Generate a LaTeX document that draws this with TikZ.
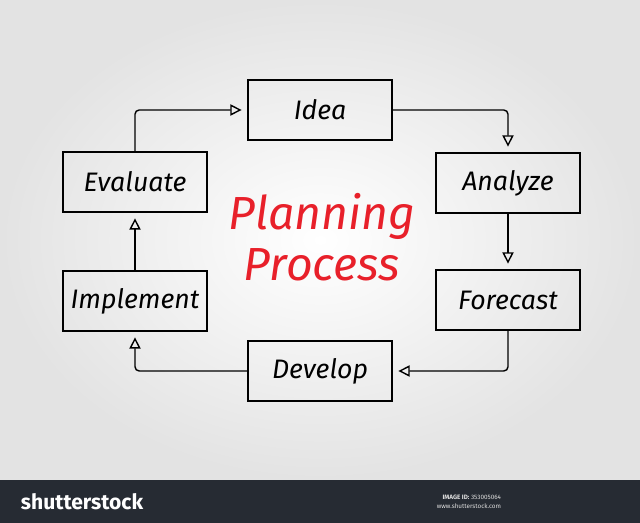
\documentclass[tikz,border=0pt]{standalone}
\usepackage{fontspec}
\setmainfont{Fira Sans}
\usetikzlibrary{arrows.meta}
\definecolor{titlered}{HTML}{E8202A}
\definecolor{footerdark}{HTML}{262B33}
\tikzset{
  stage/.style={draw, line width=1.1pt, minimum width=3.6cm, minimum height=1.5cm,
    font=\fontsize{19}{22}\selectfont\itshape},
  link/.style={->, line width=1pt, shorten >=4pt, rounded corners=3pt},
}
\begin{document}
\begin{tikzpicture}[x=0.025cm, y=-0.025cm, >={Triangle[open,length=8pt,width=8pt,line width=1pt]}]
\useasboundingbox (0,0) rectangle (640,523);
\shade[inner color=white, outer color=gray!22] (0,0) rectangle (640,480);

\foreach \name/\x/\y/\txt in {idea/320/110/Idea, evaluate/135/182/Evaluate,
  analyze/508/183/Analyze, implement/135/301/Implement,
  forecast/508/300/Forecast, develop/320/371/Develop}
{
    \node[stage] (\name) at (\x,\y) {\txt};
}
\node[font=\fontsize{33}{36}\selectfont\itshape, text=titlered, align=center] (title) at (322,237) {Planning\\Process};

\draw[link] (evaluate.north) |- (idea.west);
\draw[link] (idea.east) -| (analyze.north);
\draw[link] (analyze) -- (forecast);
\draw[link] (forecast.south) |- (develop.east);
\draw[link] (develop.west) -| (implement.south);
\draw[link] (implement) -- (evaluate);

% footer band
\fill[footerdark] (0,480) rectangle (640,523);
\node[text=white, font=\bfseries\fontsize{15}{15}\selectfont, anchor=west] (brand) at (16,502) {shutterstock};
\node[text=white!75!gray, font=\fontsize{4.5}{6}\selectfont, align=right, anchor=east] (imgid) at (506,502) {\textbf{IMAGE ID:} 353005064\\www.shutterstock.com};
\end{tikzpicture}
\end{document}
